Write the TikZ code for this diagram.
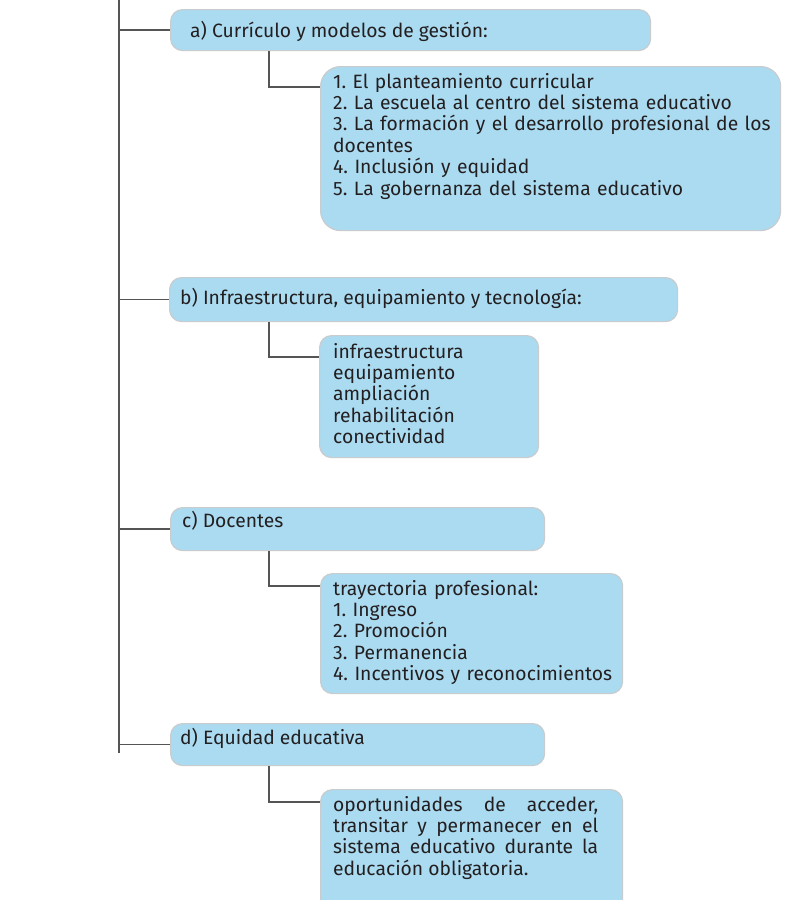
\documentclass[tikz,border=0pt]{standalone}
\usepackage{fontspec}
\setmainfont{Fira Sans}
\frenchspacing
\usetikzlibrary{positioning}
\definecolor{cajaazul}{RGB}{171,219,241}
\definecolor{bordegris}{RGB}{200,204,206}
\definecolor{lineagris}{RGB}{85,85,85}
\definecolor{textogris}{RGB}{35,31,32}

\begin{document}
\begin{tikzpicture}[x=1pt,y=-1pt,
  caja/.style={draw=bordegris,fill=cajaazul,line width=1.2pt,rounded corners=12pt,inner sep=0pt,anchor=north west},
  texto/.style={anchor=base west,inner sep=0pt,align=left,text=textogris,font=\fontsize{19.3}{21.4}\selectfont},
  rama/.style={draw=lineagris,line width=1.4pt}]
\useasboundingbox (0,0) rectangle (790,900);
\clip (0,0) rectangle (790,900);
\fill[white] (0,0) rectangle (790,900);
\coordinate (tronco) at (119,0);
\coordinate (fin) at (119,753);
\draw[rama] (tronco) -- (fin);

\node[caja,minimum width=480pt,minimum height=41pt] (a) at (170,9) {};
\node[texto] (ta) at (190,37) {a) Currículo y modelos de gestión:};
\node[caja,rounded corners=20pt,minimum width=460pt,minimum height=164pt] (a1) at (320,66) {};
\node[texto,text width=445pt] (ta1) at (333,88) {1. El planteamiento curricular\\2. La escuela al centro del sistema educativo\\3. La formación y el desarrollo profesional de los\\docentes\\4. Inclusión y equidad\\5. La gobernanza del sistema educativo};

\node[caja,minimum width=508pt,minimum height=44pt] (b) at (169,277) {};
\node[texto] (tb) at (180,304) {b) Infraestructura, equipamiento y tecnología:};
\node[caja,minimum width=219pt,minimum height=122pt] (b1) at (319,335) {};
\node[texto,text width=200pt] (tb1) at (333,358) {infraestructura\\equipamiento\\ampliación\\rehabilitación\\conectividad};

\node[caja,minimum width=374pt,minimum height=43pt] (c) at (170,507) {};
\node[texto] (tc) at (182,527) {c) Docentes};
\node[caja,minimum width=302pt,minimum height=120pt] (c1) at (320,573) {};
\node[texto,text width=285pt] (tc1) at (333,595) {trayectoria profesional:\\1. Ingreso\\2. Promoción\\3. Permanencia\\4. Incentivos y reconocimientos};

\node[caja,minimum width=374pt,minimum height=42pt] (d) at (170,723) {};
\node[texto] (td) at (180,744) {d) Equidad educativa};
\node[caja,minimum width=302pt,minimum height=140pt] (d1) at (320,789) {};
\node[texto,text width=265pt,align=justify] (td1) at (333,811) {oportunidades de acceder,\linebreak transitar y permanecer en el\linebreak sistema educativo durante la\linebreak educación obligatoria.};

\draw[rama] (a.west -| tronco) -- (a.west);
\draw[rama] (b.west -| tronco) -- (b.west);
\draw[rama] (c.west -| tronco) -- (c.west);
\draw[rama] (d.west -| tronco) -- (d.west);
\draw[rama] ([xshift=99pt]a.south west) |- ([yshift=-21pt]a1.north west);
\draw[rama] ([xshift=100pt]b.south west) |- ([yshift=-22pt]b1.north west);
\draw[rama] ([xshift=99pt]c.south west) |- ([yshift=-13pt]c1.north west);
\draw[rama] ([xshift=99pt]d.south west) |- ([yshift=-13pt]d1.north west);
\end{tikzpicture}
\end{document}
